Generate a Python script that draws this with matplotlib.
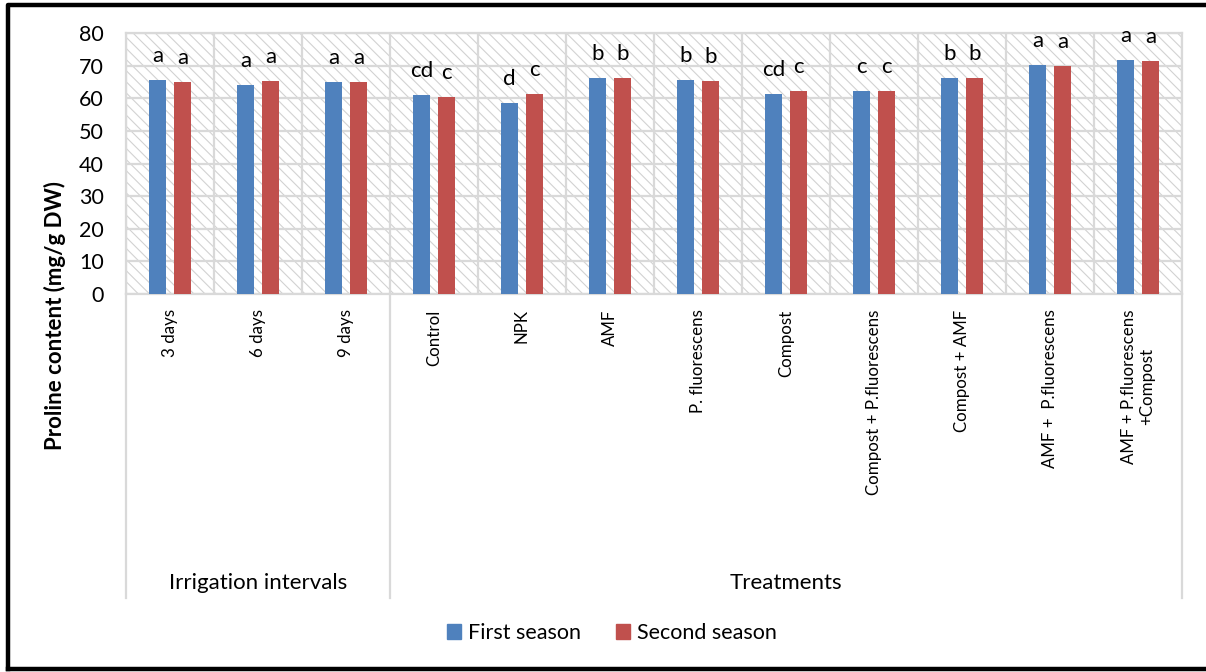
import numpy as np
import matplotlib
matplotlib.use("Agg")
import matplotlib.pyplot as plt
from matplotlib.patches import Rectangle, Patch
from matplotlib.lines import Line2D
from matplotlib.transforms import blended_transform_factory

plt.rcParams["font.family"] = ["Lato", "DejaVu Sans"]
plt.rcParams["hatch.linewidth"] = 0.8

# ---- data ----
categories = ["3 days", "6 days", "9 days", "Control", "NPK", "AMF",
              "P. fluorescens", "Compost", "Compost + P.fluorescens",
              "Compost + AMF", "AMF +  P.fluorescens",
              "AMF + P.fluorescens\n+Compost"]
first_season = [65.5, 64.2, 64.9, 60.9, 58.6, 66.3, 65.7, 61.3, 62.2, 66.3, 70.2, 71.7]
second_season = [65.1, 65.2, 64.9, 60.5, 61.4, 66.2, 65.4, 62.1, 62.1, 66.2, 70.0, 71.4]
first_letters = ["a", "a", "a", "cd", "d", "b", "b", "cd", "c", "b", "a", "a"]
second_letters = ["a", "a", "a", "c", "c", "b", "b", "c", "c", "b", "a", "a"]
groups = ["Irrigation intervals", "Treatments"]
group_sizes = [3, 9]

blue = "#4F81BD"
red = "#C0504D"
grid_c = "#D9D9D9"

W, H = 1206, 672
fig = plt.figure(figsize=(W / 100, H / 100), dpi=100)
ax = fig.add_axes([126 / W, 1 - 294 / H, 1056 / W, 261 / H])

x = np.arange(len(categories))
bw = 0.195
off = 0.142

# hatched plot area
ax.add_patch(Rectangle((0, 0), 1, 1, transform=ax.transAxes, facecolor="white",
                       edgecolor="#D2D2D2", hatch="\\\\\\", linewidth=0, zorder=0))

ax.bar(x - off, first_season, bw, color=blue, zorder=3, label="First season")
ax.bar(x + off, second_season, bw, color=red, zorder=3, label="Second season")

for i in range(len(categories)):
    ax.text(x[i] - off, first_season[i] + 5.5, first_letters[i], ha="center",
            va="baseline", fontsize=16, zorder=4)
    ax.text(x[i] + off, second_season[i] + 5.5, second_letters[i], ha="center",
            va="baseline", fontsize=16, zorder=4)

ax.set_xlim(-0.5, len(categories) - 0.5)
ax.set_ylim(0, 80)
ax.set_yticks(np.arange(0, 81, 10))
ax.set_xticks(x)
ax.set_xticklabels(categories, rotation=90, va="top", ha="center",
                   multialignment="center", fontsize=12.2)
ax.set_xticks(np.arange(-0.5, len(categories), 1), minor=True)
ax.tick_params(axis="x", which="both", length=0, pad=11)
ax.tick_params(axis="y", length=0, pad=16, labelsize=15.5)

ax.grid(axis="y", color=grid_c, linewidth=1.6, zorder=1)
ax.grid(axis="x", which="minor", color=grid_c, linewidth=1.6, zorder=1)
ax.grid(axis="x", which="major", visible=False)
for s in ax.spines.values():
    s.set_color(grid_c)
    s.set_linewidth(1.6)

# group separators below the axis
tr = blended_transform_factory(ax.transData, fig.transFigure)
y_top = 1 - 294 / H
y_bot = 1 - 598 / H
edges = np.concatenate([[0], np.cumsum(group_sizes)]) - 0.5
for e in edges:
    fig.add_artist(Line2D([e, e], [y_top, y_bot], transform=tr,
                          color=grid_c, linewidth=1.6))
for g, a, b in zip(groups, edges[:-1], edges[1:]):
    fig.text((a + b) / 2, 1 - 583 / H, g, transform=tr, ha="center",
             va="center", fontsize=16)

fig.text(55 / W, 1 - 315 / H, "Proline content (mg/g DW)", rotation=90,
         ha="center", va="center", fontsize=16, fontweight="bold")

handles = [Patch(color=blue, label="First season"),
           Patch(color=red, label="Second season")]
fig.legend(handles=handles, loc="center", bbox_to_anchor=(612 / W, 1 - 633 / H),
           ncol=2, frameon=False, fontsize=15.5, handlelength=0.65,
           handleheight=0.65, handletextpad=0.35, columnspacing=1.6)

# outer frame
fig.add_artist(Line2D([8 / W, 8 / W, 1.01, ], [1 - 669 / H, 1 - 5 / H, 1 - 5 / H],
                      transform=fig.transFigure, color="black", linewidth=3.2))
fig.add_artist(Line2D([8 / W, 1.01], [1 - 669 / H, 1 - 669 / H],
                      transform=fig.transFigure, color="black", linewidth=3.2))

fig.savefig("out.png", dpi=100)
